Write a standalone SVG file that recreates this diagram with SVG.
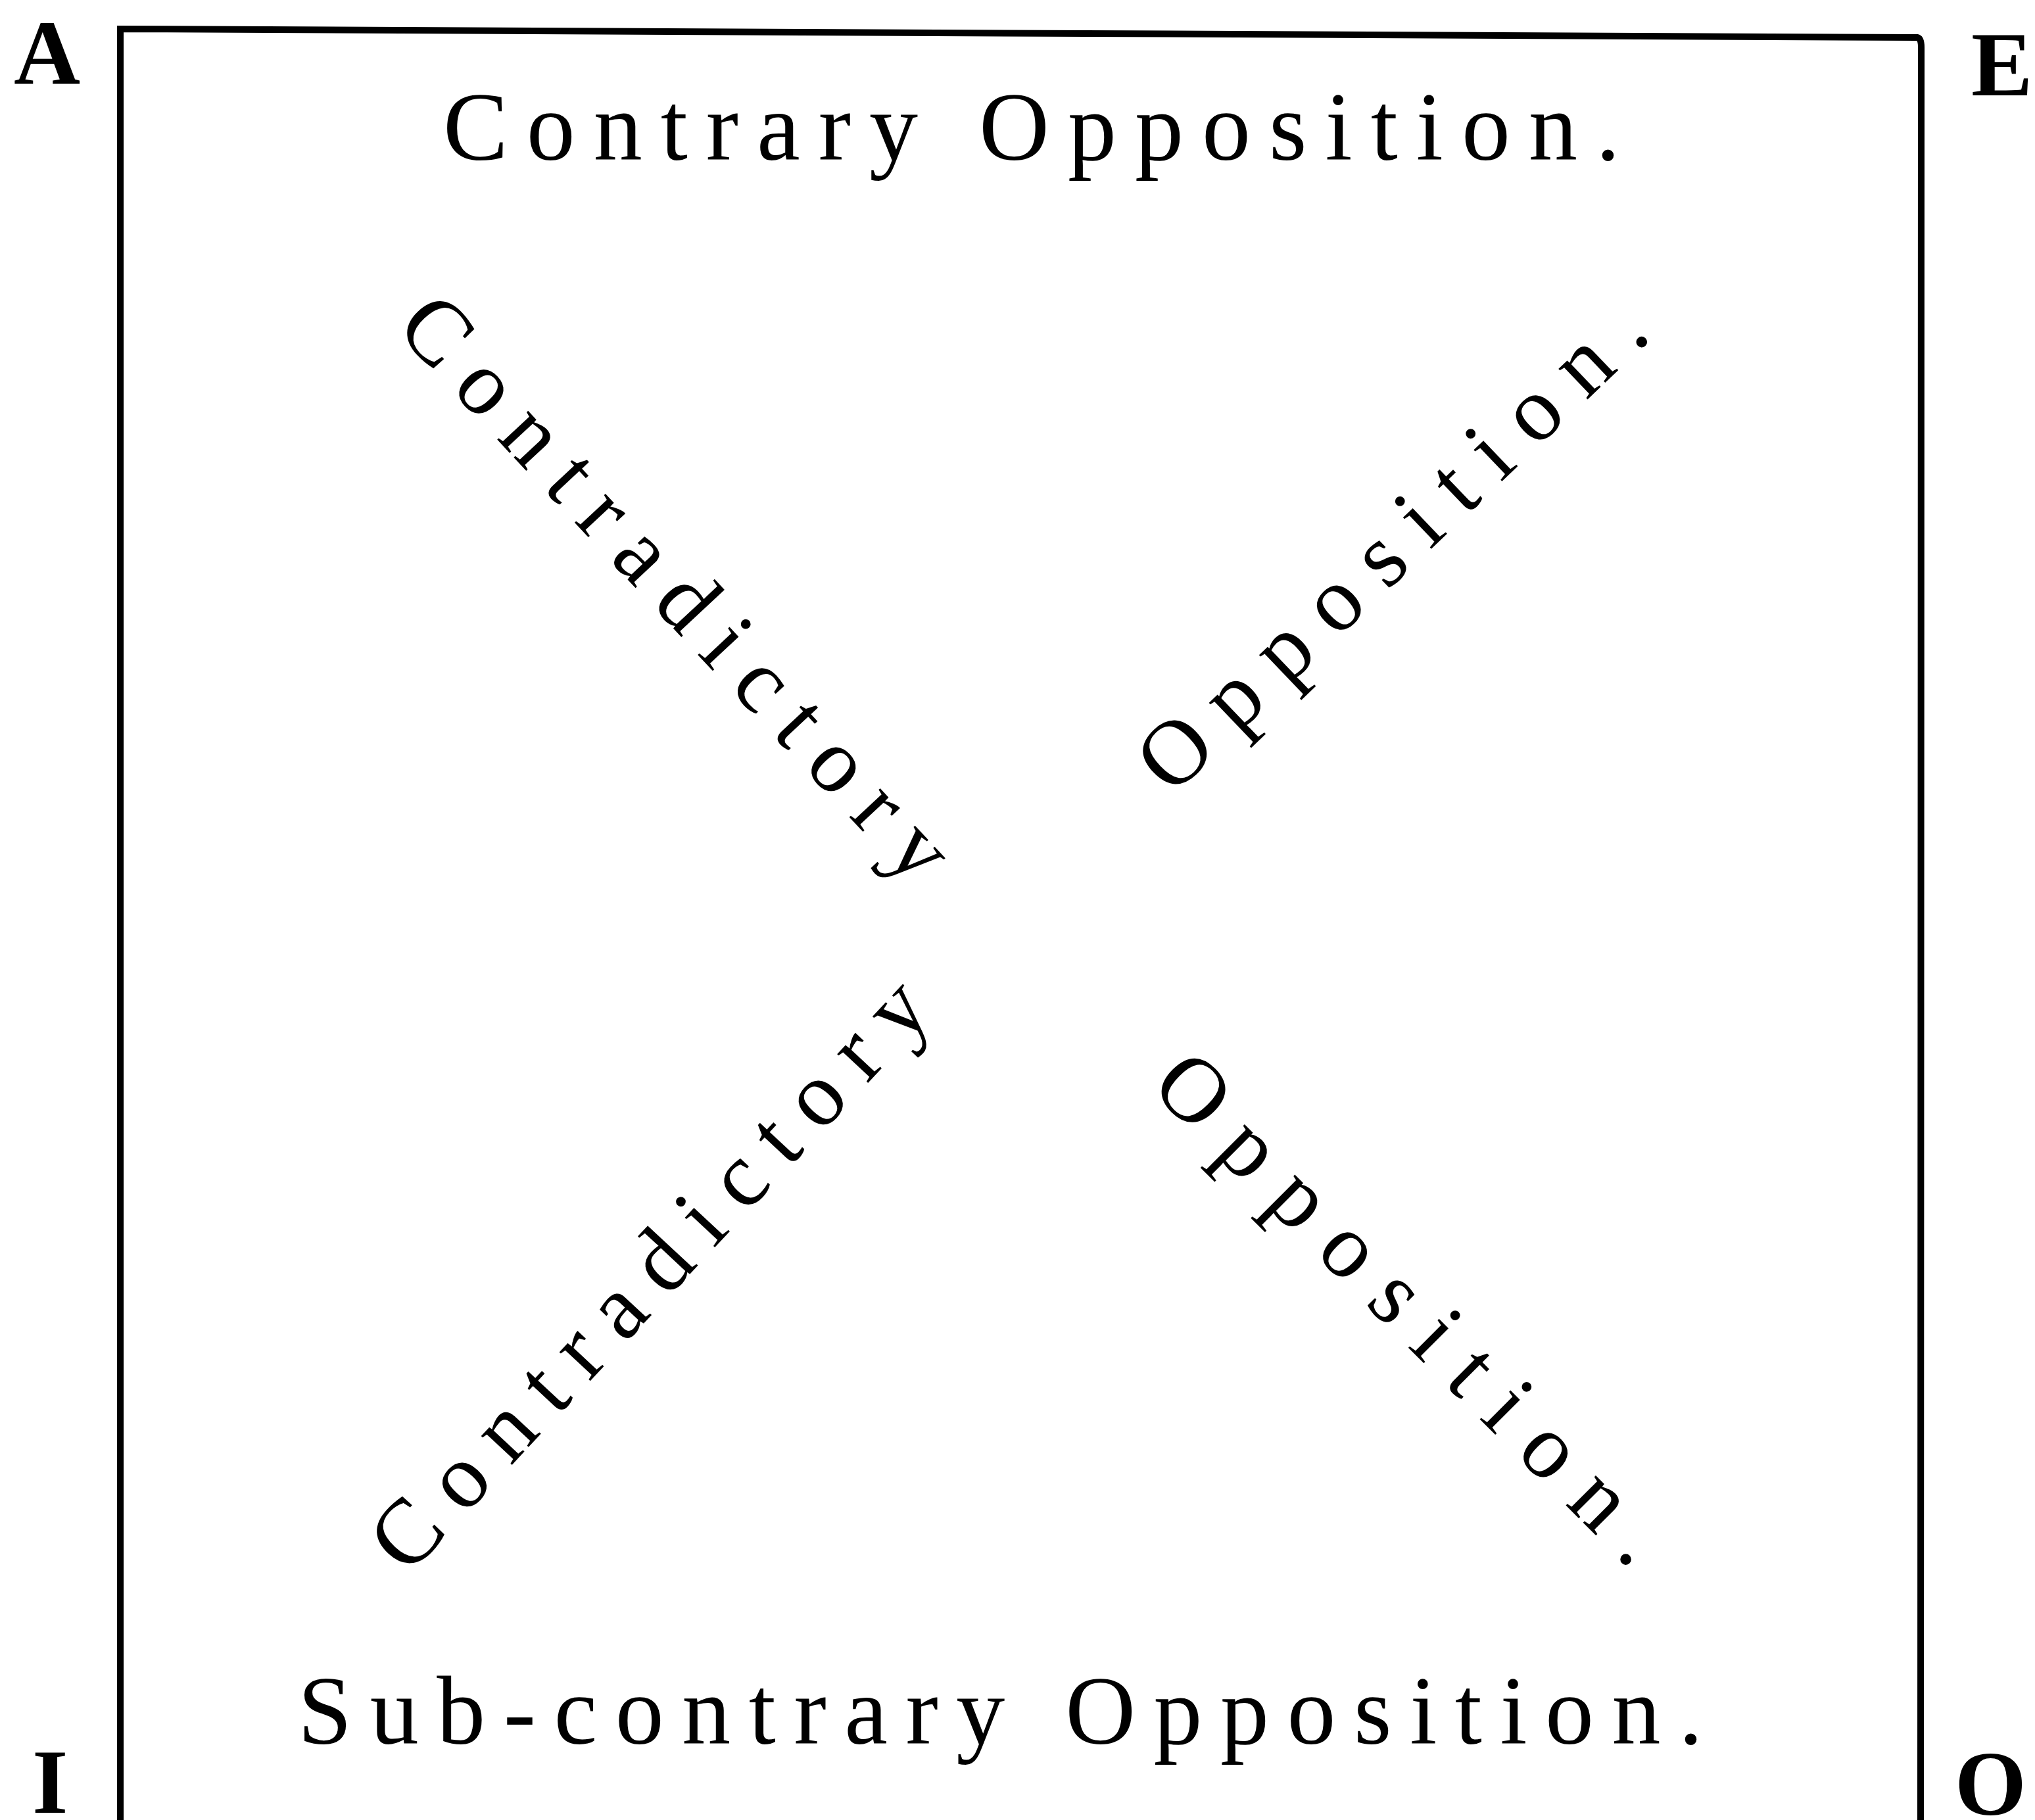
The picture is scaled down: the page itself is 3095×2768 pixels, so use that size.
<svg xmlns="http://www.w3.org/2000/svg" width="3095" height="2768" viewBox="0 0 3095 2768">
<style>
.lbl{font-family:"Liberation Serif","DejaVu Serif",serif;font-weight:bold;font-size:140px;fill:#000}
.cap{font-family:"Liberation Serif","DejaVu Serif",serif;font-size:148px;fill:#000}
.diag{font-family:"Liberation Serif","DejaVu Serif",serif;font-size:140px;fill:#000}
.frame{fill:none;stroke:#000;stroke-width:10;stroke-linejoin:miter}
</style>
<rect width="3095" height="2768" fill="#fff"/>
<g id="connectors">
<path class="frame" d="M183,2768 L183,44 L2916,57 Q2922,58 2922,72 L2921,2768"/>
</g>
<g id="node-A"><text class="lbl" x="21" y="128">A</text></g>
<g id="node-E"><text class="lbl" x="2998" y="145">E</text></g>
<g id="node-I"><text class="lbl" x="49" y="2757">I</text></g>
<g id="node-O"><text class="lbl" x="2973" y="2760">O</text></g>
<g id="label-contrary"><text class="cap" x="674" y="243" letter-spacing="28">Contrary Opposition.</text></g>
<g id="label-subcontrary"><text class="cap" x="453" y="2652" letter-spacing="27.5">Sub-contrary Opposition.</text></g>
<g id="label-contradictory-ul"><text class="diag" transform="translate(599,500) rotate(47)" letter-spacing="32">Contradictory</text></g>
<g id="label-opposition-ur"><text class="diag" transform="translate(1782,1212) rotate(-43.7)" letter-spacing="35.5">Opposition.</text></g>
<g id="label-contradictory-ll"><text class="diag" transform="translate(620,2398) rotate(-47)" letter-spacing="33">Contradictory</text></g>
<g id="label-opposition-lr"><text class="diag" transform="translate(1747,1655) rotate(45)" letter-spacing="38">Opposition.</text></g>
</svg>
